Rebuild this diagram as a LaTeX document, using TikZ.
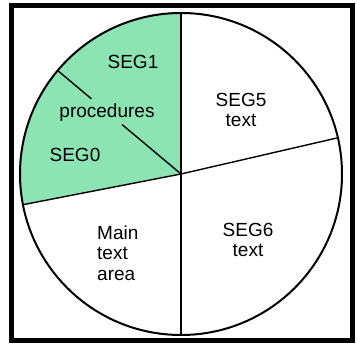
\documentclass[tikz,border=0pt]{standalone}
\usepackage{fontspec}
\setmainfont{Liberation Sans}
\usetikzlibrary{calc}
\definecolor{segmint}{RGB}{140,228,178}
\tikzset{
  frame/.style={line width=5pt, draw=black},
  rim/.style={line width=2pt, draw=black},
  divider/.style={line width=1.4pt, draw=black},
  lbl/.style={font=\fontsize{19}{20.5}\selectfont, inner sep=0pt, text=black},
}
\begin{document}
\begin{tikzpicture}[x=1pt, y=1pt]
  \useasboundingbox (0,0) rectangle (357,345);
  % outer frame
  \draw[frame] (11,4) rectangle (352,339.5);
  % disc centre and points on the rim
  \coordinate (O) at (181,171);
  \def\R{161}
  \coordinate (top) at ($(O)+(90:\R)$);
  \coordinate (bot) at ($(O)+(270:\R)$);
  \coordinate (east) at ($(O)+(13:\R)$);
  \coordinate (west) at ($(O)+(191:\R)$);
  \coordinate (pa) at ($(O)+(140:77)$);
  \coordinate (pb) at ($(O)+(140:117)$);
  \coordinate (pc) at ($(O)+(140:\R)$);
  % shaded procedure segments
  \fill[segmint] (O) -- (top) arc[start angle=90, end angle=191, radius=\R] -- cycle;
  % dividers
  \draw[divider] (top) -- (O) -- (bot);
  \draw[divider] (east) -- (O) -- (west);
  \draw[divider] (O) -- (pa);
  \draw[divider] (pb) -- (pc);
  % rim
  \draw[rim] (O) circle[radius=\R];
  % labels
  \node[lbl] (seg1) at (133,283) {SEG1};
  \node[lbl] (proc) at (107,232) {procedures};
  \node[lbl] (seg0) at (75,190) {SEG0};
  \node[lbl, align=center] (seg5) at (241,235) {SEG5\\text};
  \node[lbl, align=center] (seg6) at (248,105) {SEG6\\text};
  \node[lbl, align=left, anchor=west] (main) at (97,92) {Main\\text\\area};
\end{tikzpicture}
\end{document}
